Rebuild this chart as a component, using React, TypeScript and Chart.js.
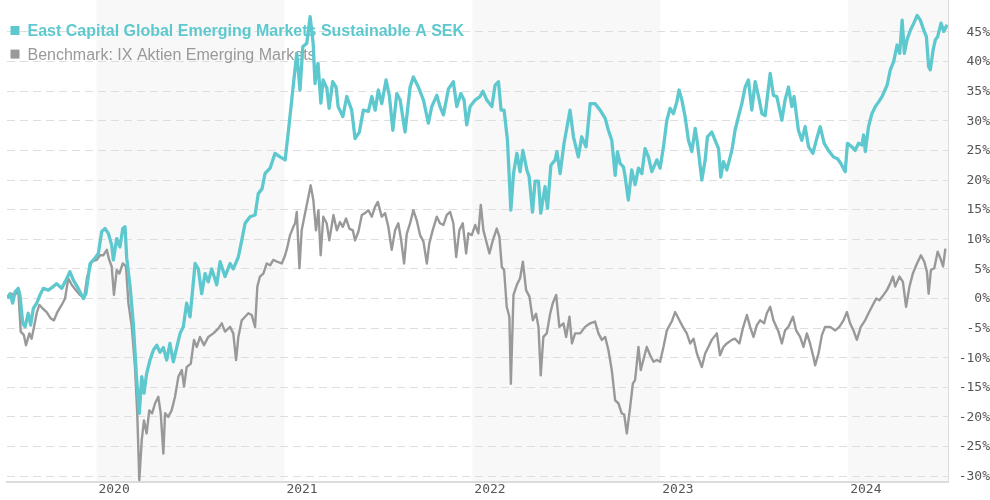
import React, { useEffect, useRef } from "react";
import { Chart, registerables } from "chart.js";

Chart.register(...registerables);

// ---- Data (x = decimal year, y = cumulative return in %) ----
const fundLabel = "East Capital Global Emerging Markets Sustainable A SEK";
const benchLabel = "Benchmark: IX Aktien Emerging Markets";

const fundDates = [
  2019.526, 2019.540, 2019.554, 2019.567, 2019.584, 2019.593, 2019.608, 2019.620, 2019.637, 2019.650,
  2019.664, 2019.682, 2019.700, 2019.717, 2019.744, 2019.770, 2019.788, 2019.815, 2019.833, 2019.859,
  2019.877, 2019.903, 2019.930, 2019.944, 2019.966, 2019.992, 2020.010, 2020.028, 2020.046, 2020.063,
  2020.081, 2020.090, 2020.108, 2020.125, 2020.140, 2020.152, 2020.161, 2020.179, 2020.196, 2020.214,
  2020.228, 2020.241, 2020.253, 2020.267, 2020.285, 2020.303, 2020.321, 2020.338, 2020.356, 2020.374,
  2020.391, 2020.409, 2020.427, 2020.445, 2020.462, 2020.480, 2020.498, 2020.525, 2020.542, 2020.560,
  2020.578, 2020.595, 2020.613, 2020.640, 2020.658, 2020.684, 2020.711, 2020.728, 2020.755, 2020.773,
  2020.791, 2020.817, 2020.844, 2020.861, 2020.881, 2020.897, 2020.924, 2020.950, 2020.977, 2021.004,
  2021.020, 2021.039, 2021.052, 2021.066, 2021.083, 2021.098, 2021.119, 2021.137, 2021.153, 2021.163,
  2021.179, 2021.194, 2021.206, 2021.226, 2021.238, 2021.257, 2021.275, 2021.286, 2021.311, 2021.332,
  2021.358, 2021.376, 2021.399, 2021.420, 2021.447, 2021.465, 2021.483, 2021.500, 2021.518, 2021.541,
  2021.559, 2021.577, 2021.598, 2021.616, 2021.642, 2021.669, 2021.686, 2021.713, 2021.740, 2021.766,
  2021.784, 2021.811, 2021.828, 2021.846, 2021.873, 2021.899, 2021.917, 2021.939, 2021.956, 2021.970,
  2021.988, 2022.015, 2022.041, 2022.056, 2022.077, 2022.104, 2022.121, 2022.139, 2022.153, 2022.169,
  2022.187, 2022.205, 2022.219, 2022.237, 2022.254, 2022.269, 2022.290, 2022.302, 2022.320, 2022.334,
  2022.352, 2022.364, 2022.387, 2022.400, 2022.418, 2022.441, 2022.450, 2022.467, 2022.488, 2022.520,
  2022.538, 2022.564, 2022.582, 2022.605, 2022.627, 2022.653, 2022.680, 2022.707, 2022.724, 2022.742,
  2022.760, 2022.772, 2022.786, 2022.804, 2022.813, 2022.830, 2022.848, 2022.866, 2022.884, 2022.902,
  2022.919, 2022.937, 2022.955, 2022.982, 2022.999, 2023.017, 2023.035, 2023.052, 2023.070, 2023.088,
  2023.100, 2023.115, 2023.132, 2023.150, 2023.168, 2023.186, 2023.198, 2023.221, 2023.239, 2023.251,
  2023.274, 2023.292, 2023.310, 2023.322, 2023.336, 2023.354, 2023.381, 2023.398, 2023.416, 2023.434,
  2023.452, 2023.469, 2023.487, 2023.505, 2023.523, 2023.541, 2023.558, 2023.576, 2023.585, 2023.602,
  2023.620, 2023.647, 2023.664, 2023.682, 2023.700, 2023.712, 2023.735, 2023.753, 2023.771, 2023.789,
  2023.812, 2023.830, 2023.851, 2023.872, 2023.895, 2023.922, 2023.943, 2023.961, 2023.984, 2023.996,
  2024.020, 2024.037, 2024.055, 2024.073, 2024.082, 2024.091, 2024.108, 2024.126, 2024.144, 2024.162,
  2024.180, 2024.207, 2024.224, 2024.242, 2024.260, 2024.274, 2024.287, 2024.299, 2024.313, 2024.331,
  2024.349, 2024.367, 2024.384, 2024.402, 2024.416, 2024.428, 2024.437, 2024.452, 2024.464, 2024.476,
  2024.494, 2024.508, 2024.526,
];

const fundValues = [
  0.0, 0.8, -0.8, 1.1, 1.7, 0.5, -4.2, -4.8, -2.5, -4.5,
  -1.7, -0.8, 0.6, 1.7, 1.4, 2.0, 2.5, 1.7, 2.8, 4.5,
  3.1, 1.7, 0.0, 0.8, 5.9, 6.8, 7.6, 11.3, 11.8, 11.0,
  9.0, 6.5, 10.1, 8.7, 11.8, 12.1, 6.8, 2.0, -4.2, -13.8,
  -19.4, -13.2, -16.0, -12.7, -10.4, -8.7, -7.9, -9.1, -8.3, -10.4,
  -7.6, -10.7, -8.3, -5.9, -4.8, -0.8, -3.1, 5.9, 5.0, 0.8,
  4.2, 2.8, 5.0, 2.3, 6.2, 3.7, 5.9, 5.0, 7.0, 9.8,
  12.7, 13.8, 14.1, 17.7, 18.5, 21.1, 22.0, 24.5, 23.9, 23.4,
  27.9, 33.5, 37.4, 41.4, 35.2, 42.5, 43.1, 47.6, 43.1, 36.3,
  39.7, 33.0, 36.9, 35.5, 32.1, 36.6, 35.7, 32.4, 30.7, 34.1,
  31.8, 27.0, 28.1, 31.8, 31.6, 34.1, 31.8, 35.2, 32.9, 36.9,
  34.1, 28.4, 34.6, 33.5, 28.1, 35.7, 37.4, 35.7, 33.5, 29.6,
  32.4, 34.3, 32.4, 31.0, 35.4, 36.6, 32.4, 34.6, 33.5, 29.3,
  32.4, 33.5, 34.1, 35.0, 33.5, 32.4, 36.0, 36.6, 31.8, 31.8,
  26.7, 14.9, 21.1, 24.5, 21.4, 25.0, 21.7, 20.6, 14.6, 19.8,
  19.8, 14.4, 18.9, 15.2, 22.5, 23.4, 24.8, 21.1, 26.2, 31.8,
  27.3, 23.9, 27.3, 25.6, 32.9, 32.9, 31.8, 30.4, 28.4, 26.7,
  20.8, 24.8, 22.8, 22.2, 20.6, 16.6, 21.7, 19.2, 22.0, 21.1,
  25.3, 23.9, 21.4, 23.4, 22.0, 25.6, 30.1, 32.1, 31.2, 33.2,
  35.2, 33.5, 30.7, 26.7, 24.8, 28.7, 26.2, 20.0, 23.4, 27.3,
  28.1, 26.7, 25.3, 20.5, 23.1, 21.7, 25.0, 28.4, 30.7, 32.9,
  35.7, 36.9, 31.8, 36.6, 34.1, 31.2, 30.9, 35.7, 38.0, 34.3,
  34.1, 30.1, 33.5, 35.7, 32.4, 34.1, 28.4, 26.7, 29.0, 25.6,
  24.5, 26.7, 29.0, 26.2, 25.0, 23.9, 23.6, 22.8, 21.4, 26.2,
  25.6, 25.0, 26.2, 25.9, 27.6, 24.8, 29.0, 31.2, 32.4, 33.2,
  34.1, 36.0, 38.6, 40.0, 42.8, 41.4, 47.0, 41.4, 43.7, 45.3,
  46.5, 47.8, 47.0, 45.3, 44.2, 39.1, 38.6, 42.0, 43.7, 44.2,
  46.5, 45.1, 46.2,
];

const benchDates = [
  2019.526, 2019.544, 2019.567, 2019.584, 2019.597, 2019.614, 2019.625, 2019.643, 2019.655, 2019.668,
  2019.682, 2019.696, 2019.714, 2019.735, 2019.757, 2019.774, 2019.792, 2019.815, 2019.833, 2019.850,
  2019.868, 2019.891, 2019.912, 2019.934, 2019.951, 2019.975, 2020.001, 2020.019, 2020.037, 2020.055,
  2020.068, 2020.081, 2020.093, 2020.108, 2020.122, 2020.140, 2020.157, 2020.170, 2020.188, 2020.205,
  2020.217, 2020.228, 2020.241, 2020.253, 2020.267, 2020.281, 2020.296, 2020.312, 2020.329, 2020.342,
  2020.356, 2020.365, 2020.382, 2020.400, 2020.418, 2020.436, 2020.454, 2020.466, 2020.480, 2020.502,
  2020.519, 2020.534, 2020.551, 2020.572, 2020.595, 2020.622, 2020.648, 2020.667, 2020.684, 2020.711,
  2020.728, 2020.743, 2020.755, 2020.773, 2020.791, 2020.808, 2020.826, 2020.844, 2020.856, 2020.870,
  2020.888, 2020.906, 2020.924, 2020.941, 2020.961, 2020.986, 2021.004, 2021.016, 2021.030, 2021.048,
  2021.057, 2021.066, 2021.080, 2021.092, 2021.110, 2021.128, 2021.140, 2021.154, 2021.168, 2021.181,
  2021.193, 2021.207, 2021.225, 2021.239, 2021.261, 2021.279, 2021.296, 2021.311, 2021.328, 2021.346,
  2021.364, 2021.376, 2021.394, 2021.412, 2021.429, 2021.447, 2021.465, 2021.483, 2021.497, 2021.518,
  2021.536, 2021.553, 2021.571, 2021.589, 2021.606, 2021.621, 2021.637, 2021.651, 2021.669, 2021.686,
  2021.704, 2021.722, 2021.740, 2021.758, 2021.771, 2021.789, 2021.811, 2021.828, 2021.846, 2021.864,
  2021.882, 2021.899, 2021.914, 2021.931, 2021.949, 2021.967, 2021.979, 2021.997, 2022.015, 2022.032,
  2022.045, 2022.059, 2022.077, 2022.091, 2022.109, 2022.130, 2022.144, 2022.157, 2022.169, 2022.183,
  2022.197, 2022.205, 2022.219, 2022.237, 2022.254, 2022.269, 2022.286, 2022.304, 2022.322, 2022.339,
  2022.352, 2022.364, 2022.378, 2022.396, 2022.414, 2022.428, 2022.446, 2022.463, 2022.485, 2022.499,
  2022.517, 2022.530, 2022.547, 2022.574, 2022.600, 2022.627, 2022.653, 2022.671, 2022.689, 2022.707,
  2022.724, 2022.742, 2022.760, 2022.777, 2022.795, 2022.808, 2022.822, 2022.840, 2022.854, 2022.866,
  2022.884, 2022.896, 2022.910, 2022.928, 2022.946, 2022.964, 2022.982, 2022.999, 2023.017, 2023.035,
  2023.061, 2023.079, 2023.097, 2023.120, 2023.141, 2023.159, 2023.177, 2023.195, 2023.221, 2023.239,
  2023.256, 2023.274, 2023.301, 2023.318, 2023.336, 2023.354, 2023.381, 2023.398, 2023.421, 2023.439,
  2023.461, 2023.478, 2023.496, 2023.514, 2023.531, 2023.553, 2023.567, 2023.585, 2023.602, 2023.629,
  2023.647, 2023.664, 2023.682, 2023.706, 2023.723, 2023.744, 2023.762, 2023.780, 2023.797, 2023.815,
  2023.824, 2023.842, 2023.860, 2023.877, 2023.904, 2023.931, 2023.953, 2023.975, 2023.993, 2024.010,
  2024.028, 2024.046, 2024.067, 2024.090, 2024.108, 2024.126, 2024.149, 2024.166, 2024.188, 2024.206,
  2024.223, 2024.238, 2024.250, 2024.273, 2024.291, 2024.308, 2024.326, 2024.344, 2024.366, 2024.387,
  2024.405, 2024.419, 2024.428, 2024.440, 2024.458, 2024.476, 2024.490, 2024.505, 2024.517,
];

const benchValues = [
  0.3, 0.8, 0.6, 1.4, -5.6, -6.2, -7.9, -5.9, -6.8, -4.8,
  -2.5, -1.1, -1.7, -2.3, -3.4, -3.7, -2.3, -1.1, 0.0, 3.4,
  2.3, 1.4, 0.6, 0.0, 3.7, 6.2, 6.5, 7.3, 7.3, 8.2,
  6.5, 5.4, 0.6, 4.8, 4.2, 5.9, 5.4, -0.8, -4.8, -11.6,
  -19.4, -30.7, -23.9, -20.6, -22.8, -18.9, -19.4, -17.7, -16.6, -19.4,
  -26.2, -19.4, -20.0, -18.9, -16.6, -13.2, -12.1, -14.9, -11.6, -11.0,
  -7.0, -8.2, -6.5, -7.9, -6.5, -5.9, -5.1, -4.2, -5.6, -4.8,
  -5.9, -10.4, -6.5, -3.7, -3.1, -2.5, -2.8, -4.8, 2.0, 3.7,
  4.2, 5.9, 5.6, 6.5, 6.2, 5.9, 7.3, 8.7, 10.7, 12.1,
  12.7, 14.6, 5.1, 11.5, 14.4, 17.2, 19.1, 16.6, 11.5, 14.9,
  7.3, 13.8, 12.7, 9.8, 14.1, 11.5, 12.9, 12.1, 13.5, 11.8,
  11.5, 9.8, 11.3, 14.1, 14.4, 14.9, 13.8, 15.5, 16.3, 13.8,
  14.4, 12.1, 8.2, 11.5, 12.7, 9.9, 5.9, 10.9, 12.7, 14.9,
  13.2, 10.7, 9.6, 5.9, 9.3, 11.5, 13.8, 12.7, 12.4, 14.1,
  14.6, 12.7, 7.0, 11.5, 12.7, 7.6, 11.0, 10.7, 12.4, 11.0,
  15.8, 11.5, 9.3, 7.6, 9.8, 11.8, 10.4, 5.3, 4.8, -1.4,
  -3.1, -14.4, 0.6, 2.3, 3.4, 6.2, 1.4, 0.3, -3.7, -2.6,
  -4.8, -13.0, -6.5, -5.9, -2.6, -0.8, 0.6, -4.8, -4.2, -6.5,
  -3.1, -7.6, -5.9, -5.9, -4.8, -4.2, -3.9, -5.9, -7.0, -6.5,
  -8.7, -12.1, -17.2, -17.7, -19.4, -19.6, -22.8, -18.3, -14.4, -13.8,
  -8.2, -12.1, -10.4, -8.2, -9.6, -10.7, -10.4, -10.7, -8.2, -5.4,
  -3.9, -2.3, -3.4, -4.8, -5.9, -7.6, -6.8, -9.3, -11.6, -9.3,
  -8.2, -7.0, -5.9, -9.6, -8.2, -7.6, -7.0, -6.8, -7.6, -5.1,
  -2.8, -4.8, -6.5, -4.5, -3.7, -4.2, -2.5, -1.4, -3.7, -5.6,
  -7.6, -5.4, -4.8, -3.1, -5.4, -6.5, -8.2, -5.9, -7.6, -9.9,
  -11.3, -9.3, -6.2, -4.8, -4.8, -5.4, -4.8, -3.7, -2.3, -4.2,
  -5.4, -7.0, -4.8, -3.7, -2.5, -1.4, 0.0, -0.3, 0.6, 1.4,
  2.5, 3.7, 2.0, 3.7, 2.8, -1.4, 2.0, 4.2, 5.9, 7.3,
  6.2, 4.5, 0.8, 4.8, 5.1, 7.9, 6.8, 5.4, 8.4,
];

const yearTicks = [2020, 2021, 2022, 2023, 2024];
const shadedYears = [2020, 2022, 2024];
const percentTicks = [-30, -25, -20, -15, -10, -5, 0, 5, 10, 15, 20, 25, 30, 35, 40, 45];

const xStart = 2019.524;
const xEnd = 2024.531;
const yMin = -31.0;
const yMax = 50.4;

const FUND_COLOR = "#5ec8cf";
const BENCH_COLOR = "#999999";
const AXIS_FONT = { family: '"DejaVu Sans Mono", monospace', size: 13 };

const bandsPlugin = {
  id: "yearBands",
  beforeDraw(chart: any) {
    const { ctx, chartArea: a, scales } = chart;
    const x = scales.x;
    ctx.save();
    ctx.fillStyle = "#f8f8f8";
    for (const yr of shadedYears) {
      const x1 = Math.max(a.left, x.getPixelForValue(yr));
      const x2 = Math.min(a.right, x.getPixelForValue(yr + 1));
      if (x2 > x1) ctx.fillRect(x1, a.top, x2 - x1, a.bottom - a.top);
    }
    ctx.restore();
  },
};

const overlayLegendPlugin = {
  id: "overlayLegend",
  beforeDatasetsDraw(chart: any) {
    const ctx = chart.ctx;
    ctx.save();
    chart.data.datasets.forEach((ds: any, i: number) => {
      const baseline = 36 + i * 23.6;
      ctx.fillStyle = ds.borderColor;
      ctx.fillRect(10.5, baseline - 10, 9, 9);
      ctx.font = `${i === 0 ? "bold " : ""}16px "Liberation Sans", Arial, sans-serif`;
      ctx.textBaseline = "alphabetic";
      ctx.textAlign = "left";
      ctx.fillText(ds.label, 27.5, baseline);
    });
    ctx.restore();
  },
};

export default function App() {
  const canvasRef = useRef<HTMLCanvasElement | null>(null);

  useEffect(() => {
    if (!canvasRef.current) return;
    const fundData = fundDates.map((d, i) => ({ x: d, y: fundValues[i] }));
    const benchData = benchDates.map((d, i) => ({ x: d, y: benchValues[i] }));

    const chart = new Chart(canvasRef.current, {
      type: "line",
      data: {
        datasets: [
          {
            label: fundLabel,
            data: fundData,
            borderColor: FUND_COLOR,
            backgroundColor: FUND_COLOR,
            borderWidth: 3.3,
            pointRadius: 0,
            tension: 0,
            borderJoinStyle: "round",
          },
          {
            label: benchLabel,
            data: benchData,
            borderColor: BENCH_COLOR,
            backgroundColor: BENCH_COLOR,
            borderWidth: 2.4,
            pointRadius: 0,
            tension: 0,
            borderJoinStyle: "round",
          },
        ],
      },
      options: {
        animation: false,
        responsive: false,
        devicePixelRatio: 1,
        events: [],
        layout: { padding: { left: 7, top: 0, right: 0, bottom: 0 } },
        plugins: {
          legend: { display: false },
          tooltip: { enabled: false },
        },
        scales: {
          x: {
            type: "linear",
            min: xStart,
            max: xEnd,
            afterBuildTicks: (s: any) => {
              s.ticks = yearTicks.map((v) => ({ value: v }));
            },
            afterFit: (s: any) => {
              s.height = 18;
              s.paddingLeft = 0;
              s.paddingRight = 0;
            },
            grid: { display: false, drawTicks: false },
            border: { display: true, color: "#dcdcdc", width: 2 },
            ticks: {
              autoSkip: false,
              maxRotation: 0,
              minRotation: 0,
              align: "start",
              labelOffset: 2,
              padding: 0,
              color: "#555555",
              font: AXIS_FONT,
              callback: (v: any) => String(v),
            },
          },
          y: {
            type: "linear",
            position: "right",
            min: yMin,
            max: yMax,
            afterBuildTicks: (s: any) => {
              s.ticks = percentTicks.map((v) => ({ value: v }));
            },
            afterFit: (s: any) => {
              s.width = 42;
              s.paddingTop = 0;
              s.paddingBottom = 0;
            },
            grid: { color: "#dedede", lineWidth: 1, drawTicks: false },
            border: { display: true, color: "#dcdcdc", width: 1, dash: [8, 5] },
            ticks: {
              crossAlign: "far",
              padding: 11,
              labelOffset: 0.5,
              color: "#555555",
              font: AXIS_FONT,
              callback: (v: any) => `${v}%`,
            },
          },
        },
      },
      plugins: [bandsPlugin, overlayLegendPlugin],
    } as any);

    return () => chart.destroy();
  }, []);

  return (
    <div style={{ position: "absolute", left: 0, top: 0, width: 990, height: 500, overflow: "hidden", background: "#fff" }}>
      <canvas ref={canvasRef} width={990} height={500} style={{ display: "block", width: 990, height: 500 }} />
    </div>
  );
}
